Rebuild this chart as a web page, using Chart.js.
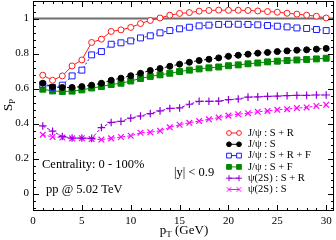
<!DOCTYPE html>
<html><head><meta charset="utf-8">
<script src="https://cdn.jsdelivr.net/npm/chart.js@4"></script>
<style>html,body{margin:0;padding:0;background:#fff}canvas{display:block}</style>
</head><body>
<canvas id="c" width="336" height="240" style="width:336px;height:240px"></canvas>
<script>
const pT = [1,2,3,4,5,6,7,8,9,10,11,12,13,14,15,16,17,18,19,20,21,22,23,24,25,26,27,28,29,30];
const jpsiSR  = [0.676,0.647,0.672,0.729,0.763,0.863,0.882,0.926,0.935,0.949,0.971,0.989,1.003,1.019,1.029,1.034,1.042,1.046,1.048,1.047,1.047,1.046,1.043,1.040,1.036,1.030,1.025,1.019,1.013,1.003];
const jpsiS   = [0.630,0.609,0.606,0.606,0.611,0.619,0.630,0.647,0.659,0.673,0.687,0.703,0.714,0.727,0.739,0.750,0.760,0.767,0.775,0.784,0.790,0.796,0.802,0.806,0.811,0.815,0.819,0.821,0.825,0.829];
const jpsiSRF = [0.624,0.606,0.619,0.672,0.705,0.792,0.811,0.853,0.861,0.872,0.889,0.901,0.918,0.931,0.941,0.950,0.958,0.962,0.966,0.967,0.967,0.966,0.964,0.960,0.956,0.952,0.946,0.943,0.937,0.931];
const jpsiSF  = [0.596,0.586,0.583,0.585,0.592,0.603,0.611,0.623,0.630,0.643,0.657,0.669,0.678,0.687,0.697,0.705,0.712,0.718,0.723,0.730,0.735,0.741,0.746,0.752,0.756,0.760,0.763,0.766,0.769,0.773];
const psi2sSR = [0.386,0.356,0.326,0.317,0.317,0.315,0.377,0.406,0.412,0.431,0.443,0.457,0.472,0.486,0.489,0.510,0.527,0.527,0.528,0.536,0.540,0.551,0.552,0.555,0.557,0.559,0.561,0.561,0.563,0.563];
const psi2sS  = [0.336,0.323,0.320,0.315,0.316,0.311,0.308,0.315,0.323,0.330,0.347,0.350,0.358,0.378,0.393,0.404,0.414,0.424,0.434,0.445,0.453,0.459,0.467,0.472,0.478,0.482,0.488,0.492,0.500,0.507];
const refLineY = [1, 1];
const refLineX = [0, 30.8];
const xTicks = [0,5,10,15,20,25,30];
const yTicks = [0,0.2,0.4,0.6,0.8,1];
const seriesLabels = ['J/\u03C8 : S + R','J/\u03C8 : S','J/\u03C8 : S + R + F','J/\u03C8 : S + F','\u03C8(2S) : S + R','\u03C8(2S) : S'];

const SERIF = "'Liberation Serif','Times New Roman',serif";
const toXY = (arr) => arr.map((v,i)=>({x:pT[i], y:v}));

const styles = [
  {c:'#ff1a1a', fill:'#ffffff', ps:'circle', r:3, dash:[], bw:1},
  {c:'#000000', fill:'#000000', ps:'circle', r:3, dash:[3,2], bw:1},
  {c:'#1a1aff', fill:'#ffffff', ps:'rect', r:4.2, dash:[2,2], bw:1},
  {c:'#008a00', fill:'#008a00', ps:'rect', r:4.2, dash:[], bw:1},
  {c:'#9400d8', fill:'#9400d8', ps:'cross', r:3.8, dash:[3,2], bw:1.2},
  {c:'#ff00ff', fill:'#ff00ff', ps:'crossRot', r:4, dash:[3,2], bw:1.2},
];
const seriesData = [jpsiSR, jpsiS, jpsiSRF, jpsiSF, psi2sSR, psi2sS];

const datasets = seriesData.map((d,i)=>({
  label: seriesLabels[i],
  data: toXY(d),
  showLine: true,
  borderColor: styles[i].c,
  borderWidth: 1,
  borderDash: styles[i].dash,
  pointStyle: styles[i].ps,
  pointRadius: styles[i].r,
  pointBorderColor: styles[i].c,
  pointBackgroundColor: styles[i].fill,
  pointBorderWidth: styles[i].bw,
  tension: 0
}));
datasets.push({
  label: 'ref',
  data: refLineX.map((x,i)=>({x:x, y:refLineY[i]})),
  showLine: true,
  borderColor: '#6e6e6e',
  borderWidth: 2,
  pointRadius: 0
});

const decor = {
  id: 'decor',
  afterDatasetsDraw(chart){
    const {ctx, chartArea:a, scales:{x,y}} = chart;
    ctx.save();
    ctx.strokeStyle = '#000'; ctx.lineWidth = 1; ctx.setLineDash([]);
    ctx.strokeRect(a.left+0.5, a.top+0.5, a.right-a.left-1, a.bottom-a.top-1);
    ctx.beginPath();
    for (let v=0; v<=30; v++){
      const px = Math.round(x.getPixelForValue(v))+0.5;
      const len = v%5===0 ? 6 : 3;
      ctx.moveTo(px, a.bottom); ctx.lineTo(px, a.bottom-len);
      ctx.moveTo(px, a.top); ctx.lineTo(px, a.top+len);
    }
    for (let k=-2; k<=27; k++){
      const v = k*0.04;
      const py = Math.round(y.getPixelForValue(v))+0.5;
      const len = k%5===0 ? 6 : 3;
      ctx.moveTo(a.left, py); ctx.lineTo(a.left+len, py);
      ctx.moveTo(a.right, py); ctx.lineTo(a.right-len, py);
    }
    ctx.stroke();

    // annotations
    ctx.fillStyle = '#000';
    ctx.textBaseline = 'middle'; ctx.textAlign = 'left';
    ctx.font = '12.5px ' + SERIF;
    ctx.fillText('Centrality: 0 - 100%', 42, 165);
    ctx.fillText('pp @ 5.02 TeV', 46, 190);
    ctx.fillText('|y| < 0.9', 174, 173);

    // legend
    ctx.font = '10.5px ' + SERIF;
    const y0 = 133, dy = 11.3;
    styles.forEach((s,i)=>{
      const yy = y0 + i*dy;
      ctx.strokeStyle = s.c; ctx.lineWidth = 1; ctx.setLineDash([]);
      ctx.beginPath(); ctx.moveTo(229, yy); ctx.lineTo(239, yy); ctx.stroke();
      ctx.fillStyle = s.fill; ctx.strokeStyle = s.c;
      [229, 239].forEach(px=>{
        Chart.helpers.drawPoint(ctx, {pointStyle:s.ps, radius:s.r*0.8, rotation:0, borderWidth:s.bw}, px, yy);
      });
      ctx.fillStyle = '#000';
      ctx.fillText(seriesLabels[i], 248, yy);
    });

    // axis titles
    ctx.font = '13px ' + SERIF;
    const subF = '9px ' + SERIF;
    const w1 = ctx.measureText('p').width;
    const w3 = ctx.measureText(' (GeV)').width;
    ctx.font = subF; const w2 = ctx.measureText('T').width;
    let sx = 184 - (w1+w2+w3)/2, sy = 231;
    ctx.font = '13px ' + SERIF; ctx.fillText('p', sx, sy);
    ctx.font = subF; ctx.fillText('T', sx+w1, sy+4);
    ctx.font = '13px ' + SERIF; ctx.fillText(' (GeV)', sx+w1+w2, sy);

    ctx.translate(9, 105); ctx.rotate(-Math.PI/2);
    ctx.font = '13px ' + SERIF;
    const ws = ctx.measureText('S').width;
    ctx.font = subF; const wp = ctx.measureText('P').width;
    const st = -(ws+wp)/2;
    ctx.font = '13px ' + SERIF; ctx.fillText('S', st, 0);
    ctx.font = subF; ctx.fillText('P', st+ws, 4);
    ctx.restore();
  }
};

new Chart(document.getElementById('c'), {
  type: 'scatter',
  data: { datasets },
  options: {
    responsive: false, animation: false, devicePixelRatio: 1,
    layout: { autoPadding: false, padding: { top: 1, right: 2, left: 0, bottom: 0 } },
    plugins: { legend: { display: false }, tooltip: { enabled: false } },
    scales: {
      x: {
        type: 'linear', min: 0, max: 30.8,
        grid: { display: false, drawTicks: false },
        border: { display: false },
        afterBuildTicks: s => { s.ticks = xTicks.map(v=>({value:v})); },
        afterFit: s => { s.height = 29; s.paddingLeft = 0; s.paddingRight = 0; },
        ticks: { color: '#000', font: { family: SERIF, size: 11 }, padding: 4, maxRotation: 0, autoSkip: false, callback: v => String(v) }
      },
      y: {
        type: 'linear', min: -0.1, max: 1.1,
        grid: { display: false, drawTicks: false },
        border: { display: false },
        afterBuildTicks: s => { s.ticks = yTicks.map(v=>({value:v})); },
        afterFit: s => { s.width = 33; s.paddingTop = 0; s.paddingBottom = 0; },
        ticks: { color: '#000', font: { family: SERIF, size: 11 }, padding: 4, autoSkip: false, callback: v => String(v) }
      }
    }
  },
  plugins: [decor]
});
</script>
</body></html>
